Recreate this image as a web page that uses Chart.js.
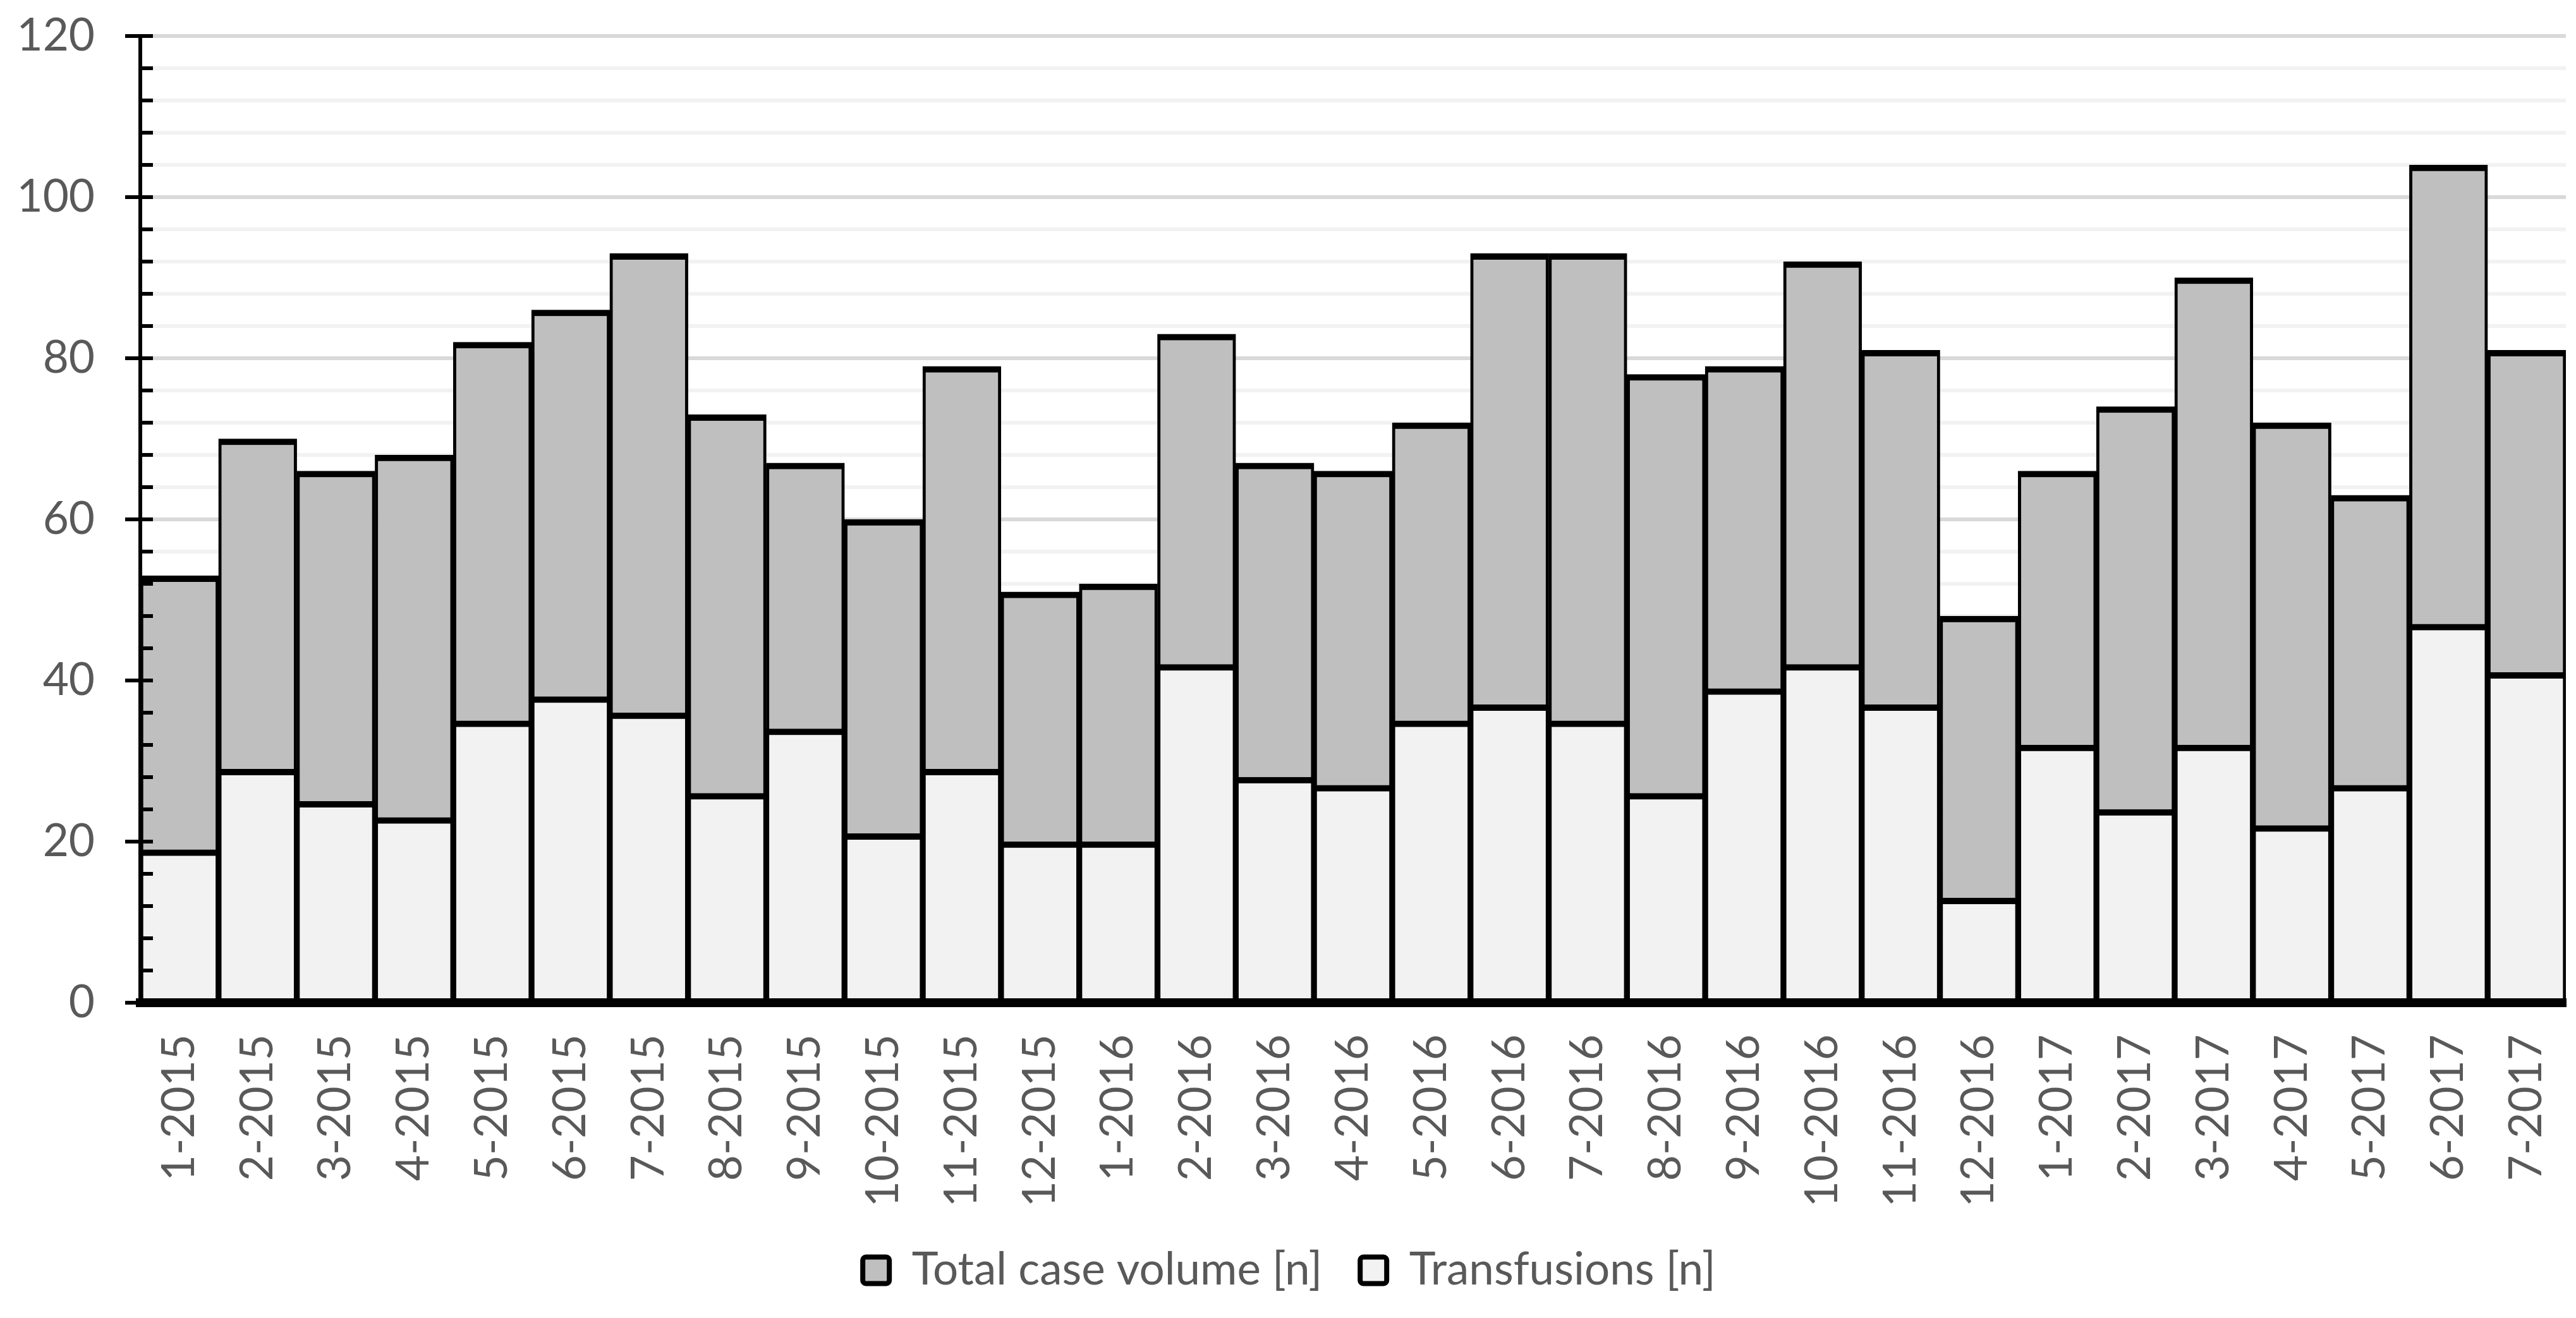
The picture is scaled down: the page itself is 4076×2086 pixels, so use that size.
<!DOCTYPE html>
<html>
<head>
<meta charset="utf-8">
<script src="https://cdn.jsdelivr.net/npm/chart.js@4/dist/chart.umd.min.js"></script>
<style>
  html, body { margin: 0; padding: 0; background: #fff; }
  canvas { display: block; }
</style>
</head>
<body>
<canvas id="chart" width="4076" height="2086"></canvas>
<script>
const months = [
    '1-2015', '2-2015', '3-2015', '4-2015', '5-2015', '6-2015', '7-2015', '8-2015', '9-2015', '10-2015', '11-2015', '12-2015',
    '1-2016', '2-2016', '3-2016', '4-2016', '5-2016', '6-2016', '7-2016', '8-2016', '9-2016', '10-2016', '11-2016', '12-2016',
    '1-2017', '2-2017', '3-2017', '4-2017', '5-2017', '6-2017', '7-2017'
];
const totalCases = [
    53, 70, 66, 68, 82, 86, 93, 73, 67, 60, 79, 51,
    52, 83, 67, 66, 72, 93, 93, 78, 79, 92, 81, 48,
    66, 74, 90, 72, 63, 104, 81
];
const transfusions = [
    19, 29, 25, 23, 35, 38, 36, 26, 34, 21, 29, 20,
    20, 42, 28, 27, 35, 37, 35, 26, 39, 42, 37, 13,
    32, 24, 32, 22, 27, 47, 41
];
const yTicks = [0, 20, 40, 60, 80, 100, 120];

const textColor = '#595959';
const fontSize = 71;
Chart.defaults.font.family = 'Lato';
Chart.defaults.font.size = fontSize;
Chart.defaults.color = textColor;

// Excel style minor tick marks on the inside of the value axis
const innerTicks = {
    id: 'innerTicks',
    afterDatasetsDraw(chart) {
        const y = chart.scales.y;
        const ctx = chart.ctx;
        const x0 = chart.chartArea.left;
        ctx.save();
        ctx.strokeStyle = '#000';
        ctx.lineWidth = 6;
        y.ticks.forEach(t => {
            if (t.value === 0) return;
            const py = y.getPixelForValue(t.value);
            ctx.beginPath();
            ctx.moveTo(x0, py);
            ctx.lineTo(x0 + 20, py);
            ctx.stroke();
        });
        ctx.restore();
    }
};

const barBorder = { top: 10, left: 5, right: 5, bottom: 0 };

new Chart(document.getElementById('chart'), {
    type: 'bar',
    data: {
        labels: months,
        datasets: [{
            label: 'Total case volume [n]',
            data: totalCases,
            backgroundColor: '#bfbfbf',
            borderColor: '#000',
            borderWidth: barBorder,
            grouped: false,
            order: 2
        }, {
            label: 'Transfusions [n]',
            data: transfusions,
            backgroundColor: '#f2f2f2',
            borderColor: '#000',
            borderWidth: barBorder,
            grouped: false,
            order: 1
        }]
    },
    options: {
        responsive: false,
        animation: false,
        devicePixelRatio: 1,
        categoryPercentage: 1,
        barPercentage: 1,
        layout: {
            padding: { top: 57, right: 16, bottom: 30, left: 20 }
        },
        scales: {
            x: {
                grid: { display: false, drawTicks: false },
                border: { color: '#000', width: 14, z: 1 },
                ticks: {
                    autoSkip: false,
                    maxRotation: 90,
                    minRotation: 90,
                    padding: 50,
                    color: textColor
                },
                afterFit(scale) {
                    scale.height = 328;
                    scale.paddingLeft = 0;
                    scale.paddingRight = 0;
                }
            },
            y: {
                min: 0,
                max: 120,
                grid: {
                    color: ctx => (ctx.tick && yTicks.includes(ctx.tick.value)) ? '#d9d9d9' : '#f2f2f2',
                    lineWidth: 6,
                    tickLength: 24,
                    tickWidth: 6,
                    tickColor: ctx => (ctx.tick && yTicks.includes(ctx.tick.value)) ? '#000' : 'rgba(0,0,0,0)'
                },
                border: { color: '#000', width: 6, z: 1 },
                ticks: {
                    stepSize: 4,
                    autoSkip: false,
                    padding: 48,
                    color: textColor,
                    callback: value => yTicks.includes(value) ? value : ''
                },
                afterFit(scale) {
                    scale.width = 202;
                    scale.paddingTop = 0;
                    scale.paddingBottom = 0;
                }
            }
        },
        plugins: {
            legend: {
                position: 'bottom',
                labels: {
                    boxWidth: 42,
                    boxHeight: 42,
                    padding: 60,
                    color: textColor,
                    useBorderRadius: true,
                    borderRadius: 5,
                    sort: (a, b) => a.datasetIndex - b.datasetIndex,
                    generateLabels(chart) {
                        return Chart.defaults.plugins.legend.labels.generateLabels(chart).map(item => {
                            item.lineWidth = 8;
                            item.strokeStyle = '#000';
                            return item;
                        });
                    }
                }
            },
            tooltip: { enabled: false }
        }
    },
    plugins: [innerTicks]
});
</script>
</body>
</html>
